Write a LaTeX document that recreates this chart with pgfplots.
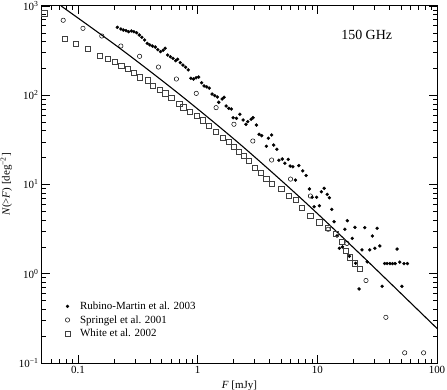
\documentclass[border=0pt]{standalone}
\usepackage{fontspec}
\setmainfont{Liberation Serif}
\usepackage{pgfplots}
\pgfplotsset{compat=1.18}

\begin{document}
\begin{tikzpicture}
\begin{axis}[
    scale only axis,
    width=395bp, height=357bp,
    xmode=log, ymode=log,
    xmin=0.05, xmax=100,
    ymin=0.1, ymax=1000,
    xtick={0.1,1,10,100},
    xticklabels={0.1,1,10,100},
    ytick={0.1,1,10,100,1000},
    yticklabels={10\textsuperscript{−1},10\textsuperscript{0},10\textsuperscript{1},10\textsuperscript{2},10\textsuperscript{3}},
    minor xtick={0.06,0.07,0.08,0.09,0.2,0.3,0.4,0.5,0.6,0.7,0.8,0.9,2,3,4,5,6,7,8,9,20,30,40,50,60,70,80,90},
    minor ytick={0.2,0.3,0.4,0.5,0.6,0.7,0.8,0.9,2,3,4,5,6,7,8,9,20,30,40,50,60,70,80,90,200,300,400,500,600,700,800,900},
    major tick length=8bp,
    minor tick length=4.5bp,
    tick style={black, line width=0.7bp},
    axis line style={line width=1bp},
    tick label style={font=\fontsize{11}{12}\selectfont},
    xlabel={\textit{F} [mJy]},
    ylabel={\textit{N}(>\textit{F}) [deg\textsuperscript{−2}]},
    label style={font=\fontsize{11}{12}\selectfont},
    clip mode=individual,
    legend style={draw=none, fill=none, font=\fontsize{11}{12}\selectfont,
        at={(axis description cs:0.05,0.183)}, anchor=north west,
        row sep=0.5bp, cells={anchor=west},
        /tikz/every odd column/.append style={column sep=8bp}},
]

% model curve
\addplot[black, line width=1.1bp, smooth, forget plot] coordinates {
    (0.0723,1000) (0.2276,330) (0.716,100.7) (2.25,28.4) (7.10,7.24)
    (22.3,1.71) (97.3,0.253) (100,0.244)
};

% Rubino-Martin et al. 2003
\addplot[only marks, mark=*, mark size=1.5bp, black] coordinates {
    (0.213,577) (0.228,552) (0.239,538) (0.252,529) (0.265,515) (0.279,525)
    (0.293,515) (0.309,502) (0.325,473) (0.342,446) (0.360,416) (0.379,382)
    (0.398,366) (0.419,356) (0.442,347) (0.464,324) (0.489,308) (0.514,319)
    (0.535,336) (0.561,282) (0.591,270) (0.622,259) (0.655,244) (0.680,253)
    (0.716,232) (0.754,218) (0.793,206) (0.834,192) (0.878,155) (0.923,152)
    (0.972,157) (1.02,160) (1.08,138) (1.13,127) (1.19,124) (1.25,120)
    (1.32,103) (1.39,98.9) (1.46,95.5) (1.50,83.4) (1.60,90.8) (1.66,94.9)
    (1.73,75.8) (1.82,71.4) (1.91,70.1) (1.98,56.0) (2.11,55.2) (2.25,61.2)
    (2.40,52.8) (2.53,47.2) (2.62,50.6) (2.80,53.8) (2.90,56.0) (3.10,46.4)
    (3.26,36.5) (3.43,35.2) (3.75,26.8) (3.90,33.0) (4.15,35.9) (4.32,27.7)
    (4.59,24.8) (4.77,18.7) (5.09,19.3) (5.36,17.3) (5.71,19.1) (5.93,16.1)
    (6.24,15.8) (6.56,11.2) (7.00,16.3) (7.55,14.2) (8.06,12.6) (8.59,8.91)
    (9.04,7.19) (9.40,5.64) (9.86,7.19) (10.4,5.78) (10.8,8.30) (11.4,9.06)
    (12.1,7.76) (12.6,7.11) (13.2,5.27) (13.8,3.83) (14.6,2.65) (15.3,1.93)
    (16.2,2.00) (17.0,3.15) (17.8,3.93) (18.5,1.57) (19.6,2.49) (20.6,3.31)
    (20.9,1.31) (22.3,0.675) (23.6,1.85) (24.9,3.28) (26.1,1.36) (27.4,1.85)
    (28.8,2.65) (30.3,1.93) (31.6,3.23) (33.3,2.05) (34.8,0.723) (36.5,1.30)
    (38.3,1.30) (40.4,1.30) (42.5,1.30) (44.7,1.30) (46.4,1.89) (48.9,1.35)
    (50.9,0.723) (53.0,1.30) (56.6,1.30)
};
\addlegendentry{Rubino-Martin et al. 2003}

% Springel et al. 2001
\addplot[only marks, mark=o, mark size=2.2bp, black, line width=0.5bp] coordinates {
    (0.0752,692) (0.110,562) (0.158,461) (0.228,356) (0.327,273) (0.470,207)
    (0.664,152) (0.973,105) (1.425,72.6) (2.01,47.3) (2.89,30.7) (4.15,18.8)
    (5.97,11.5) (8.75,7.43) (12.3,3.15) (17.7,2.19) (25.5,0.840) (37.4,0.325)
    (53.7,0.130) (77.3,0.130)
};
\addlegendentry{Springel et al. 2001}

% White et al. 2002
\addplot[only marks, mark=square, mark size=2.6bp, black!75, line width=0.6bp] coordinates {
    (0.0523,828) (0.0780,430) (0.0962,378) (0.121,332) (0.152,279) (0.177,255)
    (0.203,235) (0.230,215) (0.260,197) (0.294,180) (0.330,159) (0.381,147)
    (0.423,128) (0.479,115) (0.537,105) (0.602,94) (0.702,81) (0.758,73.3)
    (0.861,64.9) (0.984,58.6) (1.096,52.4) (1.239,45.2) (1.424,39.0) (1.62,33.4)
    (1.825,29.9) (1.996,26.5) (2.22,23.3) (2.43,20.9) (2.66,18.6) (3.01,15.4)
    (3.38,13.4) (3.75,11.7) (4.15,10.1) (5.00,8.86) (5.78,7.53) (6.65,6.70)
    (7.46,5.50) (8.75,4.44) (10.4,3.77) (12.3,3.28) (14.3,2.79) (15.9,2.28)
    (17.2,1.82) (18.7,1.53) (20.7,1.31) (22.8,1.14)
};
\addlegendentry{White et al. 2002}

\node[font=\fontsize{14}{16}\selectfont] at (axis description cs:0.822,0.919) {150 GHz};

\end{axis}
\pgfresetboundingbox
\path[use as bounding box] (-42bp,-27bp) rectangle (405bp,363bp);
\end{tikzpicture}
\end{document}
